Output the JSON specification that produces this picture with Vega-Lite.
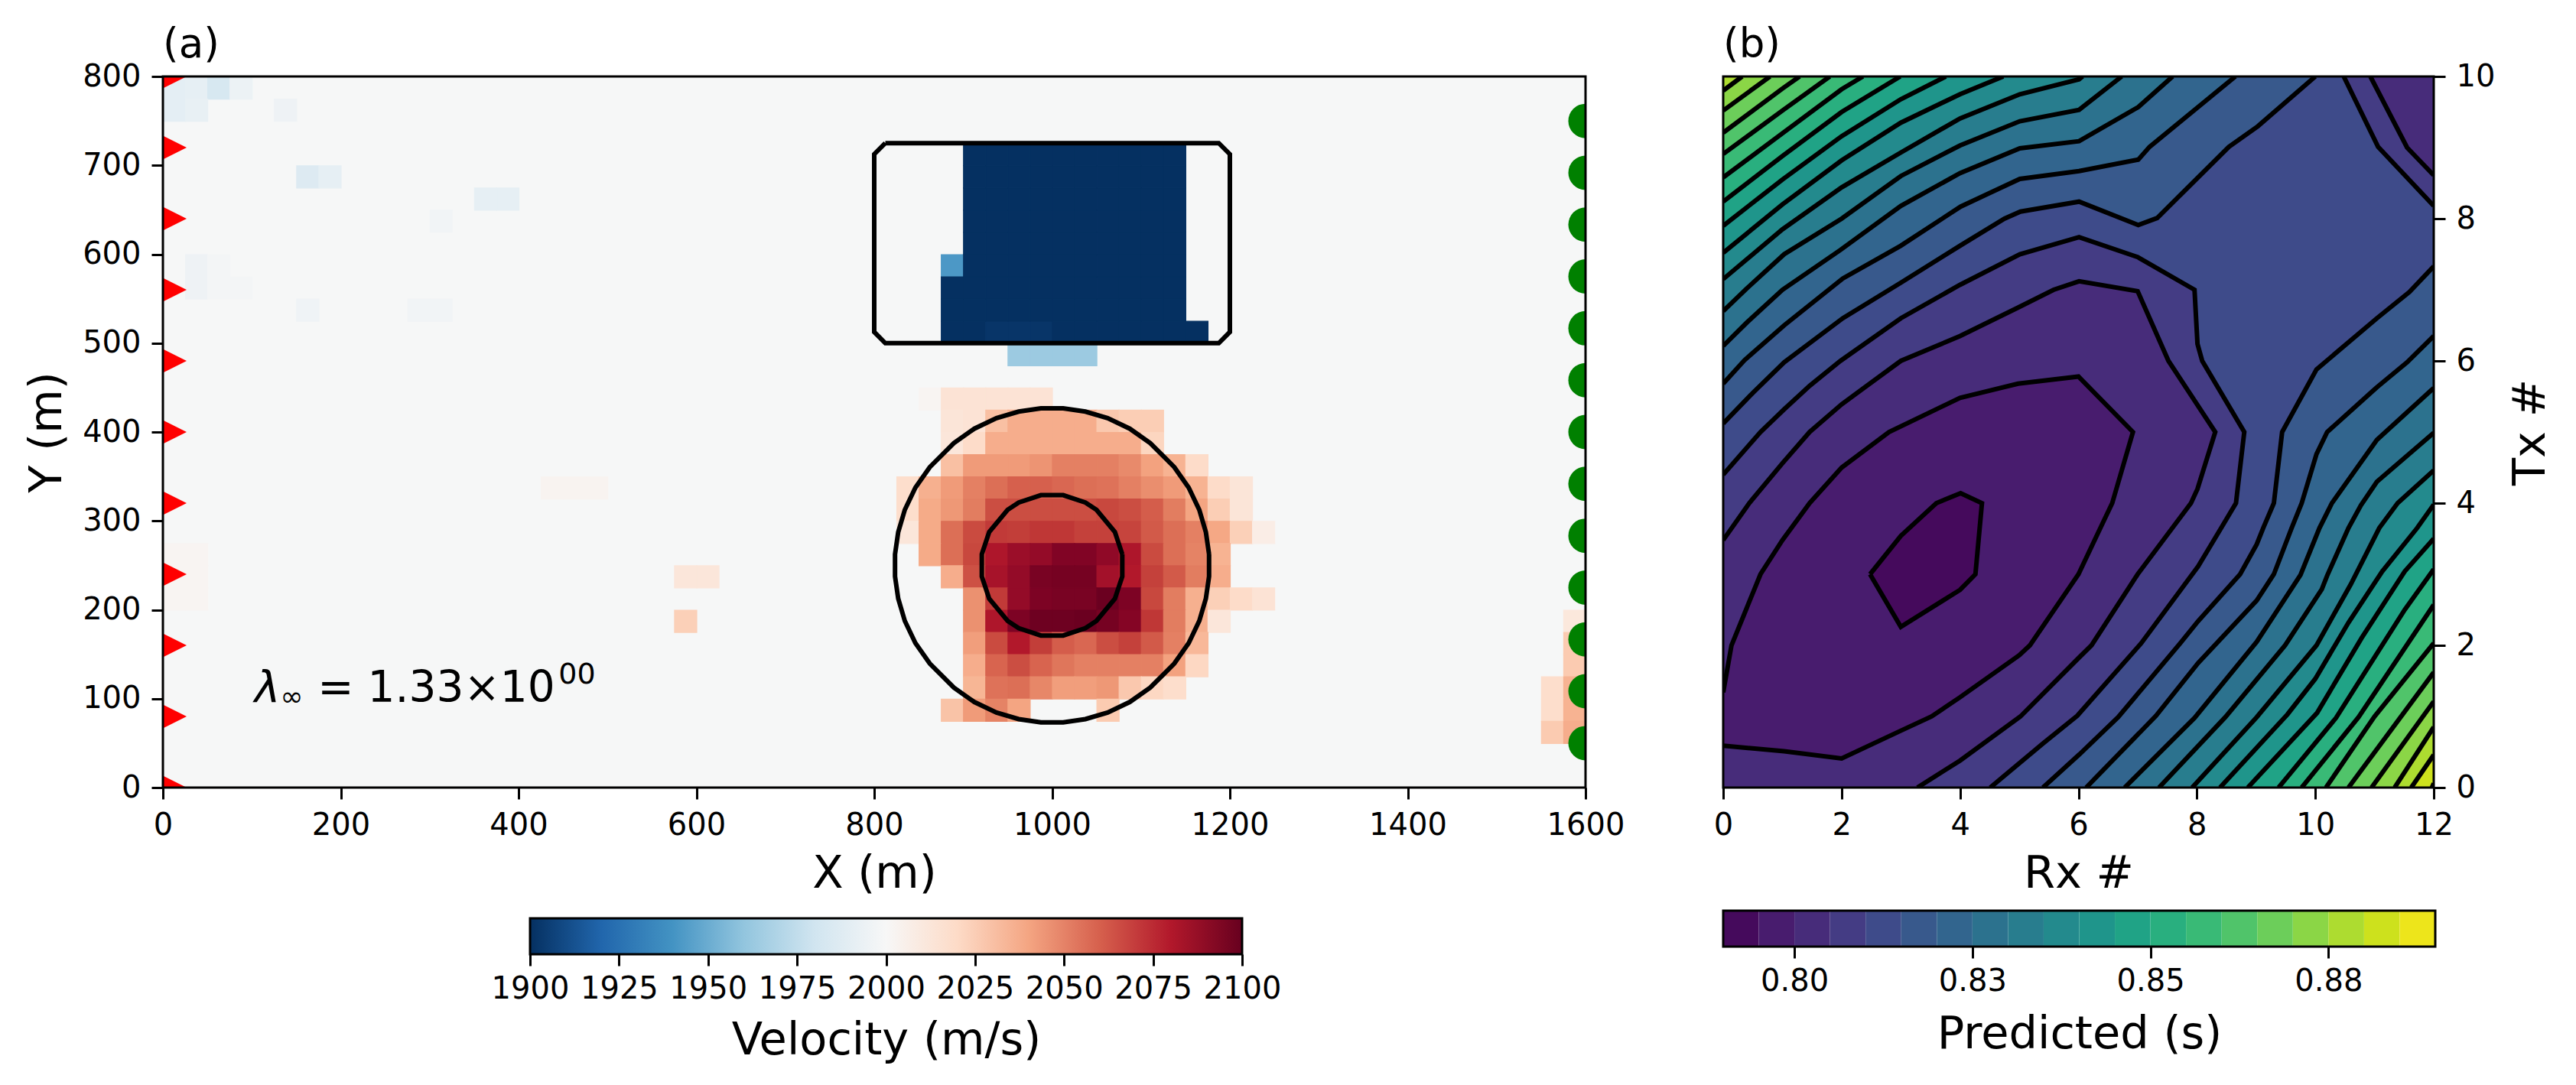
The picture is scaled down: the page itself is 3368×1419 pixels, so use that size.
{
"$schema":"https://vega.github.io/schema/vega-lite/v6.json",
"background":"white",
"padding":{"left":32,"top":33,"right":40,"bottom":20},
"bounds":"flush",
"columns":2,
"align":"each",
"spacing":{"row":161,"column":180},
"config":{"font":"DejaVu Sans","view":{"stroke":null},
 "axis":{"domain":false,"grid":false,"tickColor":"black","tickWidth":3,"tickSize":15,"labelColor":"black","titleColor":"black","labelFontSize":40,"titleFontSize":59,"titleFontWeight":"normal","labelFlush":false,"labelOverlap":false,"labelPadding":14,"format":"d"},
 "title":{"font":"DejaVu Sans","fontSize":53,"fontWeight":"normal","color":"black","anchor":"start","frame":"group","offset":-6}},
"datasets":{
"frameA":[{"a":0,"b":1600,"l":0,"h":800,"v":2000}],
"frameB":[{"a":0,"b":12,"l":0,"h":10}],
"cells":[
{"x":850,"y":425,"v":2002},{"x":875,"y":425,"v":2014},{"x":900,"y":425,"v":2014},{"x":925,"y":425,"v":2014},{"x":950,"y":425,"v":2014},{"x":975,"y":425,"v":2014},
{"x":875,"y":400,"v":2013},{"x":900,"y":400,"v":2014},{"x":925,"y":400,"v":2030},{"x":950,"y":400,"v":2037},{"x":975,"y":400,"v":2037},{"x":1000,"y":400,"v":2037},{"x":1025,"y":400,"v":2037},{"x":1050,"y":400,"v":2027},{"x":1075,"y":400,"v":2025},{"x":1100,"y":400,"v":2025},
{"x":875,"y":375,"v":2012},{"x":900,"y":375,"v":2019},{"x":925,"y":375,"v":2037},{"x":950,"y":375,"v":2037},{"x":975,"y":375,"v":2037},{"x":1000,"y":375,"v":2037},{"x":1025,"y":375,"v":2037},{"x":1050,"y":375,"v":2037},{"x":1075,"y":375,"v":2037},{"x":1100,"y":375,"v":2022},
{"x":875,"y":350,"v":2030},{"x":900,"y":350,"v":2043},{"x":925,"y":350,"v":2043},{"x":950,"y":350,"v":2043},{"x":975,"y":350,"v":2045},{"x":1000,"y":350,"v":2051},{"x":1025,"y":350,"v":2051},{"x":1050,"y":350,"v":2051},{"x":1075,"y":350,"v":2048},{"x":1100,"y":350,"v":2041},{"x":1125,"y":350,"v":2035},{"x":1150,"y":350,"v":2019},
{"x":825,"y":325,"v":2018},{"x":850,"y":325,"v":2036},{"x":875,"y":325,"v":2043},{"x":900,"y":325,"v":2051},{"x":925,"y":325,"v":2056},{"x":950,"y":325,"v":2060},{"x":975,"y":325,"v":2060},{"x":1000,"y":325,"v":2058},{"x":1025,"y":325,"v":2056},{"x":1050,"y":325,"v":2055},{"x":1075,"y":325,"v":2051},{"x":1100,"y":325,"v":2047},{"x":1125,"y":325,"v":2043},{"x":1150,"y":325,"v":2035},{"x":1175,"y":325,"v":2019},{"x":1200,"y":325,"v":2013},
{"x":825,"y":300,"v":2018},{"x":850,"y":300,"v":2038},{"x":875,"y":300,"v":2044},{"x":900,"y":300,"v":2052},{"x":925,"y":300,"v":2066},{"x":950,"y":300,"v":2066},{"x":975,"y":300,"v":2066},{"x":1000,"y":300,"v":2066},{"x":1025,"y":300,"v":2066},{"x":1050,"y":300,"v":2068},{"x":1075,"y":300,"v":2066},{"x":1100,"y":300,"v":2061},{"x":1125,"y":300,"v":2052},{"x":1150,"y":300,"v":2040},{"x":1175,"y":300,"v":2025},{"x":1200,"y":300,"v":2013},
{"x":825,"y":275,"v":2012},{"x":850,"y":275,"v":2038},{"x":875,"y":275,"v":2056},{"x":900,"y":275,"v":2067},{"x":925,"y":275,"v":2072},{"x":950,"y":275,"v":2071},{"x":975,"y":275,"v":2073},{"x":1000,"y":275,"v":2073},{"x":1025,"y":275,"v":2070},{"x":1050,"y":275,"v":2070},{"x":1075,"y":275,"v":2069},{"x":1100,"y":275,"v":2062},{"x":1125,"y":275,"v":2056},{"x":1150,"y":275,"v":2051},{"x":1175,"y":275,"v":2039},{"x":1200,"y":275,"v":2024},{"x":1225,"y":275,"v":2007},
{"x":850,"y":250,"v":2038},{"x":875,"y":250,"v":2056},{"x":900,"y":250,"v":2068},{"x":925,"y":250,"v":2081},{"x":950,"y":250,"v":2086},{"x":975,"y":250,"v":2088},{"x":1000,"y":250,"v":2093},{"x":1025,"y":250,"v":2093},{"x":1050,"y":250,"v":2089},{"x":1075,"y":250,"v":2081},{"x":1100,"y":250,"v":2067},{"x":1125,"y":250,"v":2056},{"x":1150,"y":250,"v":2050},{"x":1175,"y":250,"v":2035},
{"x":875,"y":225,"v":2037},{"x":900,"y":225,"v":2065},{"x":925,"y":225,"v":2083},{"x":950,"y":225,"v":2088},{"x":975,"y":225,"v":2095},{"x":1000,"y":225,"v":2096},{"x":1025,"y":225,"v":2096},{"x":1050,"y":225,"v":2084},{"x":1075,"y":225,"v":2080},{"x":1100,"y":225,"v":2070},{"x":1125,"y":225,"v":2062},{"x":1150,"y":225,"v":2052},{"x":1175,"y":225,"v":2037},
{"x":900,"y":200,"v":2046},{"x":925,"y":200,"v":2072},{"x":950,"y":200,"v":2088},{"x":975,"y":200,"v":2094},{"x":1000,"y":200,"v":2095},{"x":1025,"y":200,"v":2095},{"x":1050,"y":200,"v":2099},{"x":1075,"y":200,"v":2094},{"x":1100,"y":200,"v":2068},{"x":1125,"y":200,"v":2052},{"x":1150,"y":200,"v":2036},{"x":1175,"y":200,"v":2024},{"x":1200,"y":200,"v":2019},{"x":1225,"y":200,"v":2014},
{"x":900,"y":175,"v":2046},{"x":925,"y":175,"v":2081},{"x":950,"y":175,"v":2094},{"x":975,"y":175,"v":2098},{"x":1000,"y":175,"v":2098},{"x":1025,"y":175,"v":2099},{"x":1050,"y":175,"v":2096},{"x":1075,"y":175,"v":2092},{"x":1100,"y":175,"v":2073},{"x":1125,"y":175,"v":2052},{"x":1150,"y":175,"v":2036},{"x":1175,"y":175,"v":2012},
{"x":900,"y":150,"v":2042},{"x":925,"y":150,"v":2067},{"x":950,"y":150,"v":2080},{"x":975,"y":150,"v":2071},{"x":1000,"y":150,"v":2061},{"x":1025,"y":150,"v":2058},{"x":1050,"y":150,"v":2066},{"x":1075,"y":150,"v":2070},{"x":1100,"y":150,"v":2062},{"x":1125,"y":150,"v":2051},{"x":1150,"y":150,"v":2033},
{"x":900,"y":125,"v":2037},{"x":925,"y":125,"v":2059},{"x":950,"y":125,"v":2066},{"x":975,"y":125,"v":2059},{"x":1000,"y":125,"v":2054},{"x":1025,"y":125,"v":2051},{"x":1050,"y":125,"v":2051},{"x":1075,"y":125,"v":2051},{"x":1100,"y":125,"v":2051},{"x":1125,"y":125,"v":2041},{"x":1150,"y":125,"v":2021},
{"x":900,"y":100,"v":2034},{"x":925,"y":100,"v":2055},{"x":950,"y":100,"v":2056},{"x":975,"y":100,"v":2049},{"x":1000,"y":100,"v":2042},{"x":1025,"y":100,"v":2042},{"x":1050,"y":100,"v":2044},{"x":1075,"y":100,"v":2027},{"x":1100,"y":100,"v":2021},{"x":1125,"y":100,"v":2018},
{"x":875,"y":75,"v":2029},{"x":900,"y":75,"v":2043},{"x":925,"y":75,"v":2050},{"x":950,"y":75,"v":2040},{"x":1050,"y":75,"v":2026},
{"x":575,"y":225,"v":2012},{"x":600,"y":225,"v":2012},{"x":575,"y":175,"v":2024},
{"x":1575,"y":175,"v":2011},{"x":1575,"y":150,"v":2026},{"x":1575,"y":125,"v":2026},{"x":1550,"y":100,"v":2018},{"x":1575,"y":100,"v":2035},{"x":1550,"y":75,"v":2018},{"x":1575,"y":75,"v":2035},{"x":1550,"y":50,"v":2026},{"x":1575,"y":50,"v":2037},
{"x":425,"y":325,"v":2003},{"x":450,"y":325,"v":2003},{"x":475,"y":325,"v":2003},
{"x":0,"y":250,"v":2002},{"x":25,"y":250,"v":2002},{"x":0,"y":225,"v":2002},{"x":25,"y":225,"v":2002},{"x":0,"y":200,"v":2002},{"x":25,"y":200,"v":2002},
{"x":0,"y":775,"v":1990},{"x":25,"y":775,"v":1991},{"x":50,"y":775,"v":1983},{"x":75,"y":775,"v":1994},{"x":0,"y":750,"v":1990},{"x":25,"y":750,"v":1992},{"x":125,"y":750,"v":1995},
{"x":150,"y":675,"v":1986},{"x":175,"y":675,"v":1991},{"x":350,"y":650,"v":1991},{"x":375,"y":650,"v":1991},{"x":300,"y":625,"v":1997},
{"x":25,"y":575,"v":1995},{"x":25,"y":550,"v":1995},{"x":50,"y":575,"v":1998},{"x":50,"y":550,"v":1998},{"x":75,"y":550,"v":1998},{"x":150,"y":525,"v":1996},{"x":275,"y":525,"v":1997},{"x":300,"y":525,"v":1997},
{"x":950,"y":475,"v":1963},{"x":975,"y":475,"v":1963},{"x":1000,"y":475,"v":1963},{"x":1025,"y":475,"v":1963},
{"x":875,"y":575,"v":1942},{"x":875,"y":550,"v":1900},{"x":875,"y":525,"v":1900},{"x":875,"y":500,"v":1900},{"x":1150,"y":500,"v":1900},
{"x":900,"y":500,"v":1900},{"x":925,"y":500,"v":1902},{"x":950,"y":500,"v":1902},{"x":975,"y":500,"v":1902},{"x":1000,"y":500,"v":1900},{"x":1025,"y":500,"v":1900},{"x":1050,"y":500,"v":1900},{"x":1075,"y":500,"v":1900},{"x":1100,"y":500,"v":1900},{"x":1125,"y":500,"v":1900},
{"x":900,"y":525,"v":1900},{"x":925,"y":525,"v":1900},{"x":950,"y":525,"v":1900},{"x":975,"y":525,"v":1900},{"x":1000,"y":525,"v":1900},{"x":1025,"y":525,"v":1900},{"x":1050,"y":525,"v":1900},{"x":1075,"y":525,"v":1900},{"x":1100,"y":525,"v":1900},{"x":1125,"y":525,"v":1900},
{"x":900,"y":550,"v":1900},{"x":925,"y":550,"v":1900},{"x":950,"y":550,"v":1900},{"x":975,"y":550,"v":1900},{"x":1000,"y":550,"v":1900},{"x":1025,"y":550,"v":1900},{"x":1050,"y":550,"v":1900},{"x":1075,"y":550,"v":1900},{"x":1100,"y":550,"v":1900},{"x":1125,"y":550,"v":1900},
{"x":900,"y":575,"v":1900},{"x":925,"y":575,"v":1900},{"x":950,"y":575,"v":1900},{"x":975,"y":575,"v":1900},{"x":1000,"y":575,"v":1900},{"x":1025,"y":575,"v":1900},{"x":1050,"y":575,"v":1900},{"x":1075,"y":575,"v":1900},{"x":1100,"y":575,"v":1900},{"x":1125,"y":575,"v":1900},
{"x":900,"y":600,"v":1900},{"x":925,"y":600,"v":1900},{"x":950,"y":600,"v":1900},{"x":975,"y":600,"v":1900},{"x":1000,"y":600,"v":1900},{"x":1025,"y":600,"v":1900},{"x":1050,"y":600,"v":1900},{"x":1075,"y":600,"v":1900},{"x":1100,"y":600,"v":1900},{"x":1125,"y":600,"v":1900},
{"x":900,"y":625,"v":1900},{"x":925,"y":625,"v":1900},{"x":950,"y":625,"v":1900},{"x":975,"y":625,"v":1900},{"x":1000,"y":625,"v":1900},{"x":1025,"y":625,"v":1900},{"x":1050,"y":625,"v":1900},{"x":1075,"y":625,"v":1900},{"x":1100,"y":625,"v":1900},{"x":1125,"y":625,"v":1900},
{"x":900,"y":650,"v":1900},{"x":925,"y":650,"v":1900},{"x":950,"y":650,"v":1900},{"x":975,"y":650,"v":1900},{"x":1000,"y":650,"v":1900},{"x":1025,"y":650,"v":1900},{"x":1050,"y":650,"v":1900},{"x":1075,"y":650,"v":1900},{"x":1100,"y":650,"v":1900},{"x":1125,"y":650,"v":1900},
{"x":900,"y":675,"v":1900},{"x":925,"y":675,"v":1900},{"x":950,"y":675,"v":1900},{"x":975,"y":675,"v":1900},{"x":1000,"y":675,"v":1900},{"x":1025,"y":675,"v":1900},{"x":1050,"y":675,"v":1900},{"x":1075,"y":675,"v":1900},{"x":1100,"y":675,"v":1900},{"x":1125,"y":675,"v":1900},
{"x":900,"y":700,"v":1900},{"x":925,"y":700,"v":1900},{"x":950,"y":700,"v":1900},{"x":975,"y":700,"v":1900},{"x":1000,"y":700,"v":1900},{"x":1025,"y":700,"v":1900},{"x":1050,"y":700,"v":1900},{"x":1075,"y":700,"v":1900},{"x":1100,"y":700,"v":1900},{"x":1125,"y":700,"v":1900}
],
"shapes":[
{"s":"box","x":812.5,"y":725},{"s":"box","x":1187.5,"y":725},{"s":"box","x":1200,"y":712.5},{"s":"box","x":1200,"y":512.5},{"s":"box","x":1187.5,"y":500},{"s":"box","x":812.5,"y":500},{"s":"box","x":800,"y":512.5},{"s":"box","x":800,"y":712.5},{"s":"box","x":812.5,"y":725},
{"s":"outer","x":1176.6,"y":262.5},{"s":"outer","x":1173,"y":287.5},{"s":"outer","x":1165.6,"y":312.5},{"s":"outer","x":1153.7,"y":337.5},{"s":"outer","x":1137.5,"y":360.5},{"s":"outer","x":1110.5,"y":387.5},{"s":"outer","x":1087.5,"y":403.7},{"s":"outer","x":1062.5,"y":415.6},{"s":"outer","x":1037.5,"y":423},{"s":"outer","x":1012.5,"y":426.6},{"s":"outer","x":987.5,"y":426.6},{"s":"outer","x":962.5,"y":423},{"s":"outer","x":937.5,"y":415.6},{"s":"outer","x":912.5,"y":403.7},{"s":"outer","x":889.5,"y":387.5},{"s":"outer","x":862.5,"y":360.5},{"s":"outer","x":846.3,"y":337.5},{"s":"outer","x":834.4,"y":312.5},{"s":"outer","x":827,"y":287.5},{"s":"outer","x":823.4,"y":262.5},{"s":"outer","x":823.4,"y":237.5},{"s":"outer","x":827,"y":212.5},{"s":"outer","x":834.4,"y":187.5},{"s":"outer","x":846.3,"y":162.5},{"s":"outer","x":862.5,"y":139.5},{"s":"outer","x":889.5,"y":112.5},{"s":"outer","x":912.5,"y":96.3},{"s":"outer","x":937.5,"y":84.4},{"s":"outer","x":962.5,"y":77},{"s":"outer","x":987.5,"y":73.4},{"s":"outer","x":1012.5,"y":73.4},{"s":"outer","x":1037.5,"y":77},{"s":"outer","x":1062.5,"y":84.4},{"s":"outer","x":1087.5,"y":96.3},{"s":"outer","x":1110.5,"y":112.5},{"s":"outer","x":1137.5,"y":139.5},{"s":"outer","x":1153.7,"y":162.5},{"s":"outer","x":1165.6,"y":187.5},{"s":"outer","x":1173,"y":212.5},{"s":"outer","x":1176.6,"y":237.5},{"s":"outer","x":1176.6,"y":262.5},
{"s":"inner","x":1079,"y":262.5},{"s":"inner","x":1070.7,"y":287.5},{"s":"inner","x":1050,"y":312.5},{"s":"inner","x":1037.5,"y":320.7},{"s":"inner","x":1012.5,"y":329},{"s":"inner","x":987.5,"y":329},{"s":"inner","x":962.5,"y":320.7},{"s":"inner","x":950,"y":312.5},{"s":"inner","x":929.3,"y":287.5},{"s":"inner","x":921,"y":262.5},{"s":"inner","x":921,"y":237.5},{"s":"inner","x":929.3,"y":212.5},{"s":"inner","x":950,"y":187.5},{"s":"inner","x":962.5,"y":179.3},{"s":"inner","x":987.5,"y":171},{"s":"inner","x":1012.5,"y":171},{"s":"inner","x":1037.5,"y":179.3},{"s":"inner","x":1050,"y":187.5},{"s":"inner","x":1070.7,"y":212.5},{"s":"inner","x":1079,"y":237.5},{"s":"inner","x":1079,"y":262.5}
],
"tx":[{"x":0,"y":0},{"x":0,"y":80},{"x":0,"y":160},{"x":0,"y":240},{"x":0,"y":320},{"x":0,"y":400},{"x":0,"y":480},{"x":0,"y":560},{"x":0,"y":640},{"x":0,"y":720},{"x":0,"y":800}],
"rx":[{"x":1600,"y":50},{"x":1600,"y":108.33},{"x":1600,"y":166.67},{"x":1600,"y":225},{"x":1600,"y":283.33},{"x":1600,"y":341.67},{"x":1600,"y":400},{"x":1600,"y":458.33},{"x":1600,"y":516.67},{"x":1600,"y":575},{"x":1600,"y":633.33},{"x":1600,"y":691.67},{"x":1600,"y":750}],
"contours":[
{"p":"base","v":0.81,"c":1,"x":0,"y":0},{"p":"base","v":0.81,"c":1,"x":12,"y":0},{"p":"base","v":0.81,"c":1,"x":12,"y":10},{"p":"base","v":0.81,"c":1,"x":0,"y":10},
{"p":"t815","v":0.815,"x":0,"y":5.12},{"p":"t815","v":0.815,"x":0.5,"y":5.55},{"p":"t815","v":0.815,"x":1.03,"y":5.98},{"p":"t815","v":0.815,"x":2.02,"y":6.6},{"p":"t815","v":0.815,"x":3,"y":7.1},{"p":"t815","v":0.815,"x":4,"y":7.62},{"p":"t815","v":0.815,"x":4.75,"y":8},{"p":"t815","v":0.815,"x":5.02,"y":8.1},{"p":"t815","v":0.815,"x":6.01,"y":8.24},{"p":"t815","v":0.815,"x":7.01,"y":7.91},{"p":"t815","v":0.815,"x":7.33,"y":8.01},{"p":"t815","v":0.815,"x":8.54,"y":9.01},{"p":"t815","v":0.815,"x":9.03,"y":9.3},{"p":"t815","v":0.815,"x":10,"y":10},{"p":"t815","v":0.815,"c":1,"x":0,"y":10},
{"p":"t820","v":0.82,"x":0,"y":5.68},{"p":"t820","v":0.82,"x":0.36,"y":6.01},{"p":"t820","v":0.82,"x":1.03,"y":6.5},{"p":"t820","v":0.82,"x":2.02,"y":7.16},{"p":"t820","v":0.82,"x":3,"y":7.62},{"p":"t820","v":0.82,"x":4.01,"y":8.17},{"p":"t820","v":0.82,"x":5.01,"y":8.56},{"p":"t820","v":0.82,"x":6.01,"y":8.67},{"p":"t820","v":0.82,"x":7.01,"y":8.83},{"p":"t820","v":0.82,"x":7.2,"y":9.01},{"p":"t820","v":0.82,"x":8.65,"y":10},{"p":"t820","v":0.82,"c":1,"x":0,"y":10},
{"p":"t825","v":0.825,"x":0,"y":6.21},{"p":"t825","v":0.825,"x":0.4,"y":6.54},{"p":"t825","v":0.825,"x":1,"y":7},{"p":"t825","v":0.825,"x":1.98,"y":7.56},{"p":"t825","v":0.825,"x":3,"y":8.18},{"p":"t825","v":0.825,"x":4,"y":8.64},{"p":"t825","v":0.825,"x":5.01,"y":8.99},{"p":"t825","v":0.825,"x":6.01,"y":9.09},{"p":"t825","v":0.825,"x":7.01,"y":9.57},{"p":"t825","v":0.825,"x":7.59,"y":10},{"p":"t825","v":0.825,"c":1,"x":0,"y":10},
{"p":"t830","v":0.83,"x":0,"y":6.7},{"p":"t830","v":0.83,"x":0.4,"y":7.02},{"p":"t830","v":0.83,"x":1.03,"y":7.5},{"p":"t830","v":0.83,"x":2,"y":8},{"p":"t830","v":0.83,"x":3,"y":8.6},{"p":"t830","v":0.83,"x":4,"y":9.03},{"p":"t830","v":0.83,"x":5.01,"y":9.37},{"p":"t830","v":0.83,"x":6.01,"y":9.53},{"p":"t830","v":0.83,"x":6.73,"y":10},{"p":"t830","v":0.83,"c":1,"x":0,"y":10},
{"p":"t835","v":0.835,"x":0,"y":7.15},{"p":"t835","v":0.835,"x":1,"y":7.85},{"p":"t835","v":0.835,"x":2,"y":8.44},{"p":"t835","v":0.835,"x":3,"y":8.93},{"p":"t835","v":0.835,"x":4,"y":9.41},{"p":"t835","v":0.835,"x":5.01,"y":9.75},{"p":"t835","v":0.835,"x":6.01,"y":9.96},{"p":"t835","v":0.835,"x":6.07,"y":10},{"p":"t835","v":0.835,"c":1,"x":0,"y":10},
{"p":"t840","v":0.84,"x":0,"y":7.52},{"p":"t840","v":0.84,"x":1,"y":8.2},{"p":"t840","v":0.84,"x":2,"y":8.82},{"p":"t840","v":0.84,"x":3,"y":9.35},{"p":"t840","v":0.84,"x":4,"y":9.75},{"p":"t840","v":0.84,"x":4.73,"y":10},{"p":"t840","v":0.84,"c":1,"x":0,"y":10},
{"p":"t845","v":0.845,"x":0,"y":7.9},{"p":"t845","v":0.845,"x":1,"y":8.55},{"p":"t845","v":0.845,"x":2,"y":9.16},{"p":"t845","v":0.845,"x":3,"y":9.68},{"p":"t845","v":0.845,"x":3.76,"y":10},{"p":"t845","v":0.845,"c":1,"x":0,"y":10},
{"p":"t850","v":0.85,"x":0,"y":8.24},{"p":"t850","v":0.85,"x":1,"y":8.88},{"p":"t850","v":0.85,"x":2,"y":9.5},{"p":"t850","v":0.85,"x":2.99,"y":10},{"p":"t850","v":0.85,"c":1,"x":0,"y":10},
{"p":"t855","v":0.855,"x":0,"y":8.58},{"p":"t855","v":0.855,"x":1,"y":9.2},{"p":"t855","v":0.855,"x":2,"y":9.82},{"p":"t855","v":0.855,"x":2.36,"y":10},{"p":"t855","v":0.855,"c":1,"x":0,"y":10},
{"p":"t860","v":0.86,"x":0,"y":8.91},{"p":"t860","v":0.86,"x":1,"y":9.52},{"p":"t860","v":0.86,"x":1.8,"y":10},{"p":"t860","v":0.86,"c":1,"x":0,"y":10},
{"p":"t865","v":0.865,"x":0,"y":9.21},{"p":"t865","v":0.865,"x":1,"y":9.83},{"p":"t865","v":0.865,"x":1.29,"y":10},{"p":"t865","v":0.865,"c":1,"x":0,"y":10},
{"p":"t870","v":0.87,"x":0,"y":9.52},{"p":"t870","v":0.87,"x":0.79,"y":10},{"p":"t870","v":0.87,"c":1,"x":0,"y":10},
{"p":"t875","v":0.875,"x":0,"y":9.8},{"p":"t875","v":0.875,"x":0.32,"y":10},{"p":"t875","v":0.875,"c":1,"x":0,"y":10},
{"p":"b815","v":0.815,"x":12,"y":7.33},{"p":"b815","v":0.815,"x":11.59,"y":6.97},{"p":"b815","v":0.815,"x":11.04,"y":6.6},{"p":"b815","v":0.815,"x":10.02,"y":5.88},{"p":"b815","v":0.815,"x":9.44,"y":5},{"p":"b815","v":0.815,"x":9.3,"y":4},{"p":"b815","v":0.815,"x":9.12,"y":3.65},{"p":"b815","v":0.815,"x":9.01,"y":3.42},{"p":"b815","v":0.815,"x":8.73,"y":3},{"p":"b815","v":0.815,"x":8.02,"y":2.34},{"p":"b815","v":0.815,"x":7.72,"y":2.03},{"p":"b815","v":0.815,"x":6.67,"y":0.99},{"p":"b815","v":0.815,"x":6.02,"y":0.47},{"p":"b815","v":0.815,"x":5.4,"y":0},{"p":"b815","v":0.815,"c":1,"x":12,"y":0},
{"p":"b820","v":0.82,"x":12,"y":6.35},{"p":"b820","v":0.82,"x":11.55,"y":5.98},{"p":"b820","v":0.82,"x":11.04,"y":5.63},{"p":"b820","v":0.82,"x":10.2,"y":5},{"p":"b820","v":0.82,"x":10.02,"y":4.69},{"p":"b820","v":0.82,"x":9.77,"y":4},{"p":"b820","v":0.82,"x":9.6,"y":3.65},{"p":"b820","v":0.82,"x":9.3,"y":3},{"p":"b820","v":0.82,"x":9.01,"y":2.63},{"p":"b820","v":0.82,"x":8.02,"y":1.75},{"p":"b820","v":0.82,"x":7.31,"y":1.01},{"p":"b820","v":0.82,"x":6.13,"y":0},{"p":"b820","v":0.82,"c":1,"x":12,"y":0},
{"p":"b825","v":0.825,"x":12,"y":5.62},{"p":"b825","v":0.825,"x":11.04,"y":4.89},{"p":"b825","v":0.825,"x":10.28,"y":4},{"p":"b825","v":0.825,"x":10.07,"y":3.65},{"p":"b825","v":0.825,"x":9.75,"y":2.99},{"p":"b825","v":0.825,"x":9.01,"y":2.05},{"p":"b825","v":0.825,"x":7.96,"y":0.98},{"p":"b825","v":0.825,"x":6.78,"y":0},{"p":"b825","v":0.825,"c":1,"x":12,"y":0},
{"p":"b830","v":0.83,"x":12,"y":4.99},{"p":"b830","v":0.83,"x":11.04,"y":4.3},{"p":"b830","v":0.83,"x":10.77,"y":3.97},{"p":"b830","v":0.83,"x":10.56,"y":3.65},{"p":"b830","v":0.83,"x":10.2,"y":2.98},{"p":"b830","v":0.83,"x":10.11,"y":2.79},{"p":"b830","v":0.83,"x":9.49,"y":2},{"p":"b830","v":0.83,"x":8.48,"y":0.99},{"p":"b830","v":0.83,"x":7.36,"y":0},{"p":"b830","v":0.83,"c":1,"x":12,"y":0},
{"p":"b835","v":0.835,"x":12,"y":4.46},{"p":"b835","v":0.835,"x":11.39,"y":4},{"p":"b835","v":0.835,"x":11.08,"y":3.65},{"p":"b835","v":0.835,"x":10.6,"y":2.86},{"p":"b835","v":0.835,"x":10.02,"y":2},{"p":"b835","v":0.835,"x":9.01,"y":0.99},{"p":"b835","v":0.835,"x":7.92,"y":0},{"p":"b835","v":0.835,"c":1,"x":12,"y":0},
{"p":"b840","v":0.84,"x":12,"y":3.98},{"p":"b840","v":0.84,"x":11.72,"y":3.65},{"p":"b840","v":0.84,"x":11.13,"y":3.04},{"p":"b840","v":0.84,"x":10.56,"y":2.32},{"p":"b840","v":0.84,"x":10,"y":1.53},{"p":"b840","v":0.84,"x":9.53,"y":1.03},{"p":"b840","v":0.84,"x":8.39,"y":0},{"p":"b840","v":0.84,"c":1,"x":12,"y":0},
{"p":"b845","v":0.845,"x":12,"y":3.5},{"p":"b845","v":0.845,"x":11.51,"y":3.04},{"p":"b845","v":0.845,"x":10.78,"y":2.1},{"p":"b845","v":0.845,"x":10.03,"y":1.05},{"p":"b845","v":0.845,"x":8.86,"y":0},{"p":"b845","v":0.845,"c":1,"x":12,"y":0},
{"p":"b850","v":0.85,"x":12,"y":3.07},{"p":"b850","v":0.85,"x":11.51,"y":2.5},{"p":"b850","v":0.85,"x":10.35,"y":0.98},{"p":"b850","v":0.85,"x":9.38,"y":0},{"p":"b850","v":0.85,"c":1,"x":12,"y":0},
{"p":"b855","v":0.855,"x":12,"y":2.57},{"p":"b855","v":0.855,"x":10.73,"y":0.99},{"p":"b855","v":0.855,"x":9.77,"y":0},{"p":"b855","v":0.855,"c":1,"x":12,"y":0},
{"p":"b860","v":0.86,"x":12,"y":2.03},{"p":"b860","v":0.86,"x":11,"y":1},{"p":"b860","v":0.86,"x":10.18,"y":0},{"p":"b860","v":0.86,"c":1,"x":12,"y":0},
{"p":"b865","v":0.865,"x":12,"y":1.62},{"p":"b865","v":0.865,"x":10.56,"y":0},{"p":"b865","v":0.865,"c":1,"x":12,"y":0},
{"p":"b870","v":0.87,"x":12,"y":1.21},{"p":"b870","v":0.87,"x":10.95,"y":0},{"p":"b870","v":0.87,"c":1,"x":12,"y":0},
{"p":"b875","v":0.875,"x":12,"y":0.85},{"p":"b875","v":0.875,"x":11.34,"y":0},{"p":"b875","v":0.875,"c":1,"x":12,"y":0},
{"p":"b880","v":0.88,"x":12,"y":0.46},{"p":"b880","v":0.88,"x":11.62,"y":0},{"p":"b880","v":0.88,"c":1,"x":12,"y":0},
{"p":"b885","v":0.885,"x":12,"y":0.06},{"p":"b885","v":0.885,"x":11.97,"y":0},{"p":"b885","v":0.885,"c":1,"x":12,"y":0},
{"p":"i810","v":0.805,"x":0,"y":4.4},{"p":"i810","v":0.805,"x":0.63,"y":5},{"p":"i810","v":0.805,"x":1.03,"y":5.32},{"p":"i810","v":0.805,"x":1.46,"y":5.65},{"p":"i810","v":0.805,"x":1.98,"y":6},{"p":"i810","v":0.805,"x":3,"y":6.6},{"p":"i810","v":0.805,"x":4,"y":7.07},{"p":"i810","v":0.805,"x":5.01,"y":7.5},{"p":"i810","v":0.805,"x":6.01,"y":7.74},{"p":"i810","v":0.805,"x":7,"y":7.46},{"p":"i810","v":0.805,"x":7.96,"y":7},{"p":"i810","v":0.805,"x":8,"y":6.39},{"p":"i810","v":0.805,"x":8.01,"y":6.24},{"p":"i810","v":0.805,"x":8.09,"y":6},{"p":"i810","v":0.805,"x":8.8,"y":5},{"p":"i810","v":0.805,"x":8.66,"y":4},{"p":"i810","v":0.805,"x":8.41,"y":3.65},{"p":"i810","v":0.805,"x":8.02,"y":3.11},{"p":"i810","v":0.805,"x":7.06,"y":2.03},{"p":"i810","v":0.805,"x":5.98,"y":1.01},{"p":"i810","v":0.805,"x":5.4,"y":0.62},{"p":"i810","v":0.805,"x":4.51,"y":0},{"p":"i810","v":0.805,"c":1,"x":0,"y":0},
{"p":"i805","v":0.8,"x":0,"y":3.48},{"p":"i805","v":0.8,"x":0.44,"y":4},{"p":"i805","v":0.8,"x":1,"y":4.56},{"p":"i805","v":0.8,"x":1.46,"y":5},{"p":"i805","v":0.8,"x":2,"y":5.39},{"p":"i805","v":0.8,"x":3,"y":6},{"p":"i805","v":0.8,"x":4,"y":6.35},{"p":"i805","v":0.8,"x":4.98,"y":6.75},{"p":"i805","v":0.8,"x":5.58,"y":7},{"p":"i805","v":0.8,"x":6.01,"y":7.12},{"p":"i805","v":0.8,"x":7,"y":6.98},{"p":"i805","v":0.8,"x":7.52,"y":6},{"p":"i805","v":0.8,"x":8.31,"y":5},{"p":"i805","v":0.8,"x":8.01,"y":4.2},{"p":"i805","v":0.8,"x":7.9,"y":4},{"p":"i805","v":0.8,"x":7,"y":3},{"p":"i805","v":0.8,"x":6.22,"y":2},{"p":"i805","v":0.8,"x":6,"y":1.82},{"p":"i805","v":0.8,"x":5.02,"y":1},{"p":"i805","v":0.8,"x":4,"y":0.38},{"p":"i805","v":0.8,"x":3.28,"y":0},{"p":"i805","v":0.8,"c":1,"x":0,"y":0},
{"p":"i800","v":0.795,"x":0,"y":1.34},{"p":"i800","v":0.795,"x":0.14,"y":2},{"p":"i800","v":0.795,"x":0.63,"y":3},{"p":"i800","v":0.795,"x":1,"y":3.48},{"p":"i800","v":0.795,"x":1.46,"y":4},{"p":"i800","v":0.795,"x":2,"y":4.5},{"p":"i800","v":0.795,"x":2.8,"y":5},{"p":"i800","v":0.795,"x":4,"y":5.48},{"p":"i800","v":0.795,"x":4.98,"y":5.68},{"p":"i800","v":0.795,"x":6,"y":5.78},{"p":"i800","v":0.795,"x":6.92,"y":5},{"p":"i800","v":0.795,"x":6.57,"y":4},{"p":"i800","v":0.795,"x":6.37,"y":3.65},{"p":"i800","v":0.795,"x":6,"y":3},{"p":"i800","v":0.795,"x":5.18,"y":2},{"p":"i800","v":0.795,"x":5,"y":1.86},{"p":"i800","v":0.795,"x":4,"y":1.27},{"p":"i800","v":0.795,"x":3.52,"y":1},{"p":"i800","v":0.795,"x":3,"y":0.8},{"p":"i800","v":0.795,"x":2,"y":0.41},{"p":"i800","v":0.795,"x":1.03,"y":0.51},{"p":"i800","v":0.795,"x":0,"y":0.59},
{"p":"i795","v":0.79,"x":2.48,"y":3},{"p":"i795","v":0.79,"x":3,"y":3.54},{"p":"i795","v":0.79,"x":3.6,"y":4},{"p":"i795","v":0.79,"x":4.01,"y":4.14},{"p":"i795","v":0.79,"x":4.37,"y":4},{"p":"i795","v":0.79,"x":4.26,"y":3},{"p":"i795","v":0.79,"x":4,"y":2.78},{"p":"i795","v":0.79,"x":3,"y":2.26},{"p":"i795","v":0.79,"x":2.48,"y":3},
{"p":"r810","v":0.805,"x":10.48,"y":10},{"p":"r810","v":0.805,"x":11.06,"y":9.01},{"p":"r810","v":0.805,"x":12,"y":8.18},{"p":"r810","v":0.805,"c":1,"x":12,"y":10},
{"p":"r805","v":0.8,"x":10.93,"y":10},{"p":"r805","v":0.8,"x":11.55,"y":9},{"p":"r805","v":0.8,"x":12,"y":8.61},{"p":"r805","v":0.8,"c":1,"x":12,"y":10}
],
"bandsB":[{"a":0.79,"b":0.795},{"a":0.795,"b":0.8},{"a":0.8,"b":0.805},{"a":0.805,"b":0.81},{"a":0.81,"b":0.815},{"a":0.815,"b":0.82},{"a":0.82,"b":0.825},{"a":0.825,"b":0.83},{"a":0.83,"b":0.835},{"a":0.835,"b":0.84},{"a":0.84,"b":0.845},{"a":0.845,"b":0.85},{"a":0.85,"b":0.855},{"a":0.855,"b":0.86},{"a":0.86,"b":0.865},{"a":0.865,"b":0.87},{"a":0.87,"b":0.875},{"a":0.875,"b":0.88},{"a":0.88,"b":0.885},{"a":0.885,"b":0.89}]
},
"concat":[
{"title":"(a)","width":1860,"height":930,
 "layer":[
 {"data":{"name":"frameA"},"mark":{"type":"rect","fill":"#f6f7f7"},"encoding":{"x":{"field":"a","type":"quantitative","scale":{"domain":[0,1600],"nice":false,"zero":false},"axis":{"title":"X (m)","values":[0,200,400,600,800,1000,1200,1400,1600],"titlePadding":14}},"x2":{"field":"b"},"y":{"field":"l","type":"quantitative","scale":{"domain":[0,800],"nice":false,"zero":false},"axis":{"title":"Y (m)","values":[0,100,200,300,400,500,600,700,800],"titlePadding":16}},"y2":{"field":"h"}}},
 {"data":{"name":"cells"},"mark":{"type":"rect","binSpacing":0,"strokeWidth":1.2},"encoding":{"x":{"field":"x","type":"quantitative","bin":{"binned":true,"step":25}},"y":{"field":"y","type":"quantitative","bin":{"binned":true,"step":25}},
   "fill":{"field":"v","type":"quantitative","legend":null,"scale":{"domain":[1900,1920,1940,1960,1980,2000,2020,2040,2060,2080,2100],"range":["#053061","#2166ac","#4393c3","#92c5de","#d1e5f0","#f7f7f7","#fddbc7","#f4a582","#d6604d","#b2182b","#67001f"]}},
   "stroke":{"field":"v","type":"quantitative","legend":null,"scale":{"domain":[1900,1920,1940,1960,1980,2000,2020,2040,2060,2080,2100],"range":["#053061","#2166ac","#4393c3","#92c5de","#d1e5f0","#f7f7f7","#fddbc7","#f4a582","#d6604d","#b2182b","#67001f"]}}}},
 {"data":{"name":"shapes"},"mark":{"type":"line","stroke":"black","strokeWidth":6,"clip":true},"encoding":{"x":{"field":"x","type":"quantitative"},"y":{"field":"y","type":"quantitative"},"detail":{"field":"s"},"order":{"value":null}}},
 {"data":{"name":"tx"},"mark":{"type":"point","shape":"M-1,-1L1,0L-1,1Z","filled":true,"fill":"#ff0000","stroke":null,"opacity":1,"size":3844,"clip":true},"encoding":{"x":{"field":"x","type":"quantitative"},"y":{"field":"y","type":"quantitative"}}},
 {"data":{"name":"rx"},"mark":{"type":"circle","fill":"#008000","stroke":null,"opacity":1,"size":2025,"clip":true},"encoding":{"x":{"field":"x","type":"quantitative"},"y":{"field":"y","type":"quantitative"}}},
 {"data":{"values":[{"t":"λ","x":103,"y":96}]},"mark":{"type":"text","fontSize":57,"fontStyle":"italic","align":"left","baseline":"alphabetic","color":"black"},"encoding":{"x":{"field":"x","type":"quantitative"},"y":{"field":"y","type":"quantitative"},"text":{"field":"t"}}},
 {"data":{"values":[{"t":"∞","x":132,"y":92}]},"mark":{"type":"text","fontSize":36,"align":"left","baseline":"alphabetic","color":"black"},"encoding":{"x":{"field":"x","type":"quantitative"},"y":{"field":"y","type":"quantitative"},"text":{"field":"t"}}},
 {"data":{"values":[{"t":"= 1.33×10","x":174,"y":96}]},"mark":{"type":"text","fontSize":56.5,"align":"left","baseline":"alphabetic","color":"black"},"encoding":{"x":{"field":"x","type":"quantitative"},"y":{"field":"y","type":"quantitative"},"text":{"field":"t"}}},
 {"data":{"values":[{"t":"00","x":445,"y":117}]},"mark":{"type":"text","fontSize":38,"align":"left","baseline":"alphabetic","color":"black"},"encoding":{"x":{"field":"x","type":"quantitative"},"y":{"field":"y","type":"quantitative"},"text":{"field":"t"}}},
 {"data":{"name":"frameA"},"mark":{"type":"rect","fill":null,"stroke":"black","strokeWidth":3},"encoding":{"x":{"field":"a","type":"quantitative"},"x2":{"field":"b"},"y":{"field":"l","type":"quantitative"},"y2":{"field":"h"}}}
 ]},
{"title":"(b)","width":929,"height":930,
 "layer":[
 {"data":{"name":"contours"},"mark":{"type":"line","strokeWidth":0,"clip":true},"encoding":{"x":{"field":"x","type":"quantitative","scale":{"domain":[0,12],"nice":false,"zero":false},"axis":{"title":"Rx #","values":[0,2,4,6,8,10,12],"titlePadding":14}},"y":{"field":"y","type":"quantitative","scale":{"domain":[0,10],"nice":false,"zero":false},"axis":{"title":"Tx #","orient":"right","values":[0,2,4,6,8,10],"titleAngle":270,"titleBaseline":"bottom","titlePadding":77}},"detail":{"field":"p"},"order":{"value":null},
   "fill":{"field":"v","type":"ordinal","legend":null,"scale":{"domain":[0.79,0.795,0.8,0.805,0.81,0.815,0.82,0.825,0.83,0.835,0.84,0.845,0.85,0.855,0.86,0.865,0.87,0.875,0.88,0.885],"range":["#450a5c","#481c6e","#472c7a","#443c84","#3e4b8a","#38598c","#32658e","#2c728e","#287d8e","#238a8d","#1f958b","#20a386","#29af7f","#39ba76","#50c46a","#6cce5a","#8bd646","#addc30","#cde11d","#ede51b"]}}}},
 {"data":{"name":"contours"},"transform":[{"filter":"!datum.c"}],"mark":{"type":"line","stroke":"black","strokeWidth":6,"clip":true,"strokeJoin":"miter"},"encoding":{"x":{"field":"x","type":"quantitative"},"y":{"field":"y","type":"quantitative"},"detail":{"field":"p"},"order":{"value":null}}},
 {"data":{"name":"frameB"},"mark":{"type":"rect","fill":null,"stroke":"black","strokeWidth":3},"encoding":{"x":{"field":"a","type":"quantitative"},"x2":{"field":"b"},"y":{"field":"l","type":"quantitative"},"y2":{"field":"h"}}}
 ]},
{"width":1860,"height":57,
 "data":{"values":[{"a":1900,"b":2100,"l":0,"h":1}]},
 "layer":[
 {"mark":{"type":"rect","fill":{"gradient":"linear","x1":0,"x2":1,"y1":0,"y2":0,"stops":[{"offset":0,"color":"#053061"},{"offset":0.1,"color":"#2166ac"},{"offset":0.2,"color":"#4393c3"},{"offset":0.3,"color":"#92c5de"},{"offset":0.4,"color":"#d1e5f0"},{"offset":0.5,"color":"#f7f7f7"},{"offset":0.6,"color":"#fddbc7"},{"offset":0.7,"color":"#f4a582"},{"offset":0.8,"color":"#d6604d"},{"offset":0.9,"color":"#b2182b"},{"offset":1,"color":"#67001f"}]}},
  "encoding":{"x":{"field":"a","type":"quantitative","scale":{"domain":[1900,2100],"range":[480,1411],"nice":false,"zero":false},"axis":{"title":"Velocity (m/s)","values":[1900,1925,1950,1975,2000,2025,2050,2075,2100],"labelPadding":10,"titlePadding":18}},"x2":{"field":"b"},"y":{"field":"l","type":"quantitative","axis":null,"scale":{"domain":[0,1],"range":[57,10]}},"y2":{"field":"h"}}},
 {"mark":{"type":"rect","fill":null,"stroke":"black","strokeWidth":3},"encoding":{"x":{"field":"a","type":"quantitative"},"x2":{"field":"b"},"y":{"field":"l","type":"quantitative"},"y2":{"field":"h"}}}
 ]},
{"width":931,"height":47,
 "layer":[
 {"data":{"name":"bandsB"},"mark":{"type":"rect"},"encoding":{"x":{"field":"a","type":"quantitative","scale":{"domain":[0.79,0.89],"nice":false,"zero":false},"axis":{"title":"Predicted (s)","values":[0.8,0.825,0.85,0.875],"labelExpr":"datum.value==0.8?'0.80':datum.value==0.825?'0.83':datum.value==0.85?'0.85':'0.88'","labelPadding":10,"titlePadding":20}},"x2":{"field":"b"},
  "fill":{"field":"a","type":"ordinal","legend":null,"scale":{"domain":[0.79,0.795,0.8,0.805,0.81,0.815,0.82,0.825,0.83,0.835,0.84,0.845,0.85,0.855,0.86,0.865,0.87,0.875,0.88,0.885],"range":["#450a5c","#481c6e","#472c7a","#443c84","#3e4b8a","#38598c","#32658e","#2c728e","#287d8e","#238a8d","#1f958b","#20a386","#29af7f","#39ba76","#50c46a","#6cce5a","#8bd646","#addc30","#cde11d","#ede51b"]}}}},
 {"data":{"values":[{"a":0.79,"b":0.89}]},"mark":{"type":"rect","fill":null,"stroke":"black","strokeWidth":3},"encoding":{"x":{"field":"a","type":"quantitative"},"x2":{"field":"b"}}}
 ]}
]}
